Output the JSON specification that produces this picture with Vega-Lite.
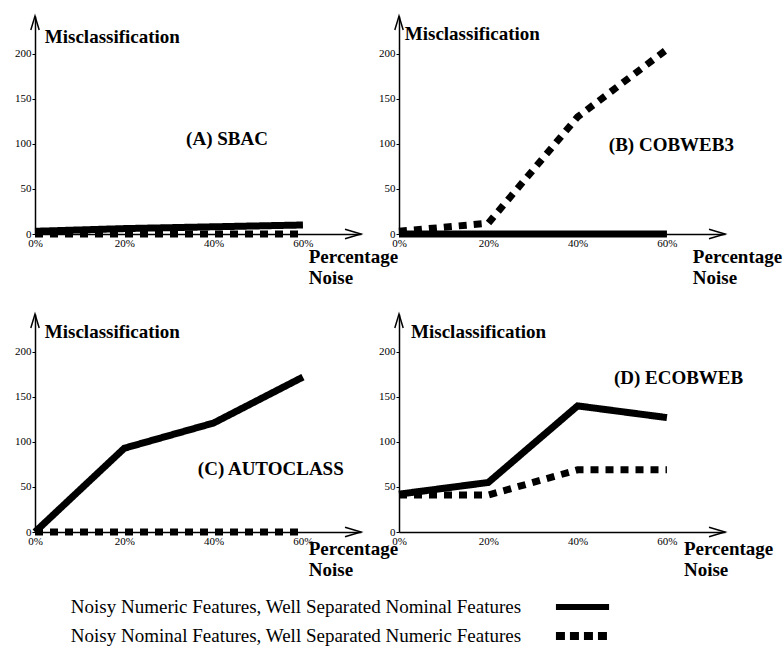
{
  "$schema": "https://vega.github.io/schema/vega-lite/v6.json",
  "background": "white",
  "padding": {"left": 14, "top": 13, "right": 5, "bottom": 5},
  "config": {
    "view": {"stroke": null},
    "font": "Liberation Serif",
    "axis": {
      "domainColor": "black", "domainWidth": 1.5, "grid": false,
      "labelFont": "Liberation Serif", "labelFontSize": 11, "labelColor": "black",
      "labelFlush": false, "labelOverlap": false, "tickColor": "black", "title": null
    },
    "axisX": {"ticks": false, "labelPadding": 3},
    "axisY": {"tickSize": 3, "labelPadding": 1}
  },
  "datasets": {
    "noise": [
      {"panel": "A", "series": "nominal", "noise": 0, "value": 0},
      {"panel": "A", "series": "nominal", "noise": 20, "value": 0},
      {"panel": "A", "series": "nominal", "noise": 40, "value": 0},
      {"panel": "A", "series": "nominal", "noise": 60, "value": 0},
      {"panel": "A", "series": "numeric", "noise": 0, "value": 3},
      {"panel": "A", "series": "numeric", "noise": 20, "value": 6},
      {"panel": "A", "series": "numeric", "noise": 40, "value": 8},
      {"panel": "A", "series": "numeric", "noise": 60, "value": 10},
      {"panel": "B", "series": "nominal", "noise": 0, "value": 3},
      {"panel": "B", "series": "nominal", "noise": 20, "value": 12},
      {"panel": "B", "series": "nominal", "noise": 40, "value": 130},
      {"panel": "B", "series": "nominal", "noise": 60, "value": 205},
      {"panel": "B", "series": "numeric", "noise": 0, "value": 0},
      {"panel": "B", "series": "numeric", "noise": 20, "value": 0},
      {"panel": "B", "series": "numeric", "noise": 40, "value": 0},
      {"panel": "B", "series": "numeric", "noise": 60, "value": 0},
      {"panel": "C", "series": "nominal", "noise": 0, "value": 0},
      {"panel": "C", "series": "nominal", "noise": 20, "value": 0},
      {"panel": "C", "series": "nominal", "noise": 40, "value": 0},
      {"panel": "C", "series": "nominal", "noise": 60, "value": 0},
      {"panel": "C", "series": "numeric", "noise": 0, "value": 0},
      {"panel": "C", "series": "numeric", "noise": 20, "value": 93},
      {"panel": "C", "series": "numeric", "noise": 40, "value": 121},
      {"panel": "C", "series": "numeric", "noise": 60, "value": 172},
      {"panel": "D", "series": "nominal", "noise": 0, "value": 41},
      {"panel": "D", "series": "nominal", "noise": 20, "value": 41},
      {"panel": "D", "series": "nominal", "noise": 40, "value": 69},
      {"panel": "D", "series": "nominal", "noise": 60, "value": 69},
      {"panel": "D", "series": "numeric", "noise": 0, "value": 42},
      {"panel": "D", "series": "numeric", "noise": 20, "value": 55},
      {"panel": "D", "series": "numeric", "noise": 40, "value": 140},
      {"panel": "D", "series": "numeric", "noise": 60, "value": 127}
    ],
    "legend": [
      {"series": "numeric", "label": "Noisy Numeric Features, Well Separated Nominal Features"},
      {"series": "nominal", "label": "Noisy Nominal Features, Well Separated Numeric Features"}
    ]
  },
  "columns": 2,
  "bounds": "flush",
  "spacing": {"row": 80, "column": 38},
  "concat": [
    {
      "width": 326, "height": 218,
      "layer": [
        {"data": {"name": "noise"}, "transform": [{"filter": "datum.panel === 'A'"}],
         "mark": {"type": "line", "strokeWidth": 7, "strokeCap": "butt", "color": "black"},
         "encoding": {
           "x": {"field": "noise", "type": "quantitative", "scale": {"domain": [0, 73], "nice": false}, "axis": {"values": [0, 20, 40, 60], "labelExpr": "datum.value + '%'"}},
           "y": {"field": "value", "type": "quantitative", "scale": {"domain": [0, 242], "nice": false}, "axis": {"values": [0, 50, 100, 150, 200]}},
           "strokeDash": {"field": "series", "type": "nominal", "sort": ["nominal", "numeric"], "scale": {"domain": ["numeric", "nominal"], "range": [[1, 0], [8, 7]]}, "legend": null}
         }},
        {"data": {"values": [{}]}, "mark": {"type": "point", "shape": "M-1,-0.3L0,0L-1,0.3", "filled": false, "stroke": "black", "strokeWidth": 1.5, "size": 1024, "opacity": 1},
         "encoding": {"x": {"datum": 73}, "y": {"datum": 0}}},
        {"data": {"values": [{}]}, "mark": {"type": "point", "shape": "M-0.3,1L0,0L0.3,1", "filled": false, "stroke": "black", "strokeWidth": 1.5, "size": 784, "opacity": 1},
         "encoding": {"x": {"datum": 0}, "y": {"datum": 242}}},
        {"data": {"values": [{}]}, "mark": {"type": "text", "text": "Misclassification", "align": "left", "baseline": "middle", "fontWeight": "bold", "fontSize": 19},
         "encoding": {"x": {"datum": 2.2}, "y": {"datum": 219}}},
        {"data": {"values": [{}]}, "mark": {"type": "text", "text": "(A) SBAC", "align": "center", "baseline": "middle", "fontWeight": "bold", "fontSize": 19},
         "encoding": {"x": {"datum": 43}, "y": {"datum": 105}}},
        {"data": {"values": [{}]}, "mark": {"type": "text", "text": ["Percentage", "Noise"], "lineHeight": 21, "align": "left", "baseline": "middle", "fontWeight": "bold", "fontSize": 19},
         "encoding": {"x": {"datum": 61.3}, "y": {"datum": -26}}}
      ]
    },
    {
      "width": 326, "height": 218,
      "layer": [
        {"data": {"name": "noise"}, "transform": [{"filter": "datum.panel === 'B'"}],
         "mark": {"type": "line", "strokeWidth": 7, "strokeCap": "butt", "color": "black"},
         "encoding": {
           "x": {"field": "noise", "type": "quantitative", "scale": {"domain": [0, 73], "nice": false}, "axis": {"values": [0, 20, 40, 60], "labelExpr": "datum.value + '%'"}},
           "y": {"field": "value", "type": "quantitative", "scale": {"domain": [0, 242], "nice": false}, "axis": {"values": [0, 50, 100, 150, 200]}},
           "strokeDash": {"field": "series", "type": "nominal", "sort": ["nominal", "numeric"], "scale": {"domain": ["numeric", "nominal"], "range": [[1, 0], [8, 7]]}, "legend": null}
         }},
        {"data": {"values": [{}]}, "mark": {"type": "point", "shape": "M-1,-0.3L0,0L-1,0.3", "filled": false, "stroke": "black", "strokeWidth": 1.5, "size": 1024, "opacity": 1},
         "encoding": {"x": {"datum": 73}, "y": {"datum": 0}}},
        {"data": {"values": [{}]}, "mark": {"type": "point", "shape": "M-0.3,1L0,0L0.3,1", "filled": false, "stroke": "black", "strokeWidth": 1.5, "size": 784, "opacity": 1},
         "encoding": {"x": {"datum": 0}, "y": {"datum": 242}}},
        {"data": {"values": [{}]}, "mark": {"type": "text", "text": "Misclassification", "align": "left", "baseline": "middle", "fontWeight": "bold", "fontSize": 19},
         "encoding": {"x": {"datum": 1.3}, "y": {"datum": 222}}},
        {"data": {"values": [{}]}, "mark": {"type": "text", "text": "(B) COBWEB3", "align": "center", "baseline": "middle", "fontWeight": "bold", "fontSize": 19},
         "encoding": {"x": {"datum": 61}, "y": {"datum": 99}}},
        {"data": {"values": [{}]}, "mark": {"type": "text", "text": ["Percentage", "Noise"], "lineHeight": 21, "align": "left", "baseline": "middle", "fontWeight": "bold", "fontSize": 19},
         "encoding": {"x": {"datum": 65.8}, "y": {"datum": -26}}}
      ]
    },
    {
      "width": 326, "height": 218,
      "layer": [
        {"data": {"name": "noise"}, "transform": [{"filter": "datum.panel === 'C'"}],
         "mark": {"type": "line", "strokeWidth": 7, "strokeCap": "butt", "color": "black"},
         "encoding": {
           "x": {"field": "noise", "type": "quantitative", "scale": {"domain": [0, 73], "nice": false}, "axis": {"values": [0, 20, 40, 60], "labelExpr": "datum.value + '%'"}},
           "y": {"field": "value", "type": "quantitative", "scale": {"domain": [0, 242], "nice": false}, "axis": {"values": [0, 50, 100, 150, 200]}},
           "strokeDash": {"field": "series", "type": "nominal", "sort": ["nominal", "numeric"], "scale": {"domain": ["numeric", "nominal"], "range": [[1, 0], [8, 7]]}, "legend": null}
         }},
        {"data": {"values": [{}]}, "mark": {"type": "point", "shape": "M-1,-0.3L0,0L-1,0.3", "filled": false, "stroke": "black", "strokeWidth": 1.5, "size": 1024, "opacity": 1},
         "encoding": {"x": {"datum": 73}, "y": {"datum": 0}}},
        {"data": {"values": [{}]}, "mark": {"type": "point", "shape": "M-0.3,1L0,0L0.3,1", "filled": false, "stroke": "black", "strokeWidth": 1.5, "size": 784, "opacity": 1},
         "encoding": {"x": {"datum": 0}, "y": {"datum": 242}}},
        {"data": {"values": [{}]}, "mark": {"type": "text", "text": "Misclassification", "align": "left", "baseline": "middle", "fontWeight": "bold", "fontSize": 19},
         "encoding": {"x": {"datum": 2.2}, "y": {"datum": 222}}},
        {"data": {"values": [{}]}, "mark": {"type": "text", "text": "(C) AUTOCLASS", "align": "center", "baseline": "middle", "fontWeight": "bold", "fontSize": 19},
         "encoding": {"x": {"datum": 52.8}, "y": {"datum": 70}}},
        {"data": {"values": [{}]}, "mark": {"type": "text", "text": ["Percentage", "Noise"], "lineHeight": 21, "align": "left", "baseline": "middle", "fontWeight": "bold", "fontSize": 19},
         "encoding": {"x": {"datum": 61.3}, "y": {"datum": -19}}}
      ]
    },
    {
      "width": 326, "height": 218,
      "layer": [
        {"data": {"name": "noise"}, "transform": [{"filter": "datum.panel === 'D'"}],
         "mark": {"type": "line", "strokeWidth": 7, "strokeCap": "butt", "color": "black"},
         "encoding": {
           "x": {"field": "noise", "type": "quantitative", "scale": {"domain": [0, 73], "nice": false}, "axis": {"values": [0, 20, 40, 60], "labelExpr": "datum.value + '%'"}},
           "y": {"field": "value", "type": "quantitative", "scale": {"domain": [0, 242], "nice": false}, "axis": {"values": [0, 50, 100, 150, 200]}},
           "strokeDash": {"field": "series", "type": "nominal", "sort": ["nominal", "numeric"], "scale": {"domain": ["numeric", "nominal"], "range": [[1, 0], [8, 7]]}, "legend": null}
         }},
        {"data": {"values": [{}]}, "mark": {"type": "point", "shape": "M-1,-0.3L0,0L-1,0.3", "filled": false, "stroke": "black", "strokeWidth": 1.5, "size": 1024, "opacity": 1},
         "encoding": {"x": {"datum": 73}, "y": {"datum": 0}}},
        {"data": {"values": [{}]}, "mark": {"type": "point", "shape": "M-0.3,1L0,0L0.3,1", "filled": false, "stroke": "black", "strokeWidth": 1.5, "size": 784, "opacity": 1},
         "encoding": {"x": {"datum": 0}, "y": {"datum": 242}}},
        {"data": {"values": [{}]}, "mark": {"type": "text", "text": "Misclassification", "align": "left", "baseline": "middle", "fontWeight": "bold", "fontSize": 19},
         "encoding": {"x": {"datum": 2.7}, "y": {"datum": 222}}},
        {"data": {"values": [{}]}, "mark": {"type": "text", "text": "(D) ECOBWEB", "align": "center", "baseline": "middle", "fontWeight": "bold", "fontSize": 19},
         "encoding": {"x": {"datum": 62.6}, "y": {"datum": 171}}},
        {"data": {"values": [{}]}, "mark": {"type": "text", "text": ["Percentage", "Noise"], "lineHeight": 21, "align": "left", "baseline": "middle", "fontWeight": "bold", "fontSize": 19},
         "encoding": {"x": {"datum": 63.8}, "y": {"datum": -19}}}
      ]
    },
    {
      "width": 326, "height": 29,
      "data": {"name": "legend"},
      "layer": [
        {"mark": {"type": "text", "align": "left", "baseline": "middle", "fontSize": 19, "font": "Liberation Serif", "dy": -5},
         "encoding": {
           "x": {"datum": 11, "type": "quantitative", "scale": {"domain": [0, 100]}, "axis": null},
           "y": {"field": "label", "type": "nominal", "sort": null, "scale": {"type": "point", "padding": 0}, "axis": null},
           "text": {"field": "label"}
         }},
        {"transform": [{"filter": "datum.series === 'numeric'"}],
         "mark": {"type": "rule", "strokeWidth": 6, "color": "black", "strokeCap": "butt", "yOffset": -5},
         "encoding": {
           "x": {"datum": 159.8}, "x2": {"datum": 176.1},
           "y": {"field": "label", "type": "nominal", "sort": null}
         }},
        {"transform": [{"filter": "datum.series === 'nominal'"}],
         "mark": {"type": "rule", "strokeWidth": 8, "color": "black", "strokeCap": "butt", "strokeDash": [9, 5], "yOffset": -5},
         "encoding": {
           "x": {"datum": 159.8}, "x2": {"datum": 176.1},
           "y": {"field": "label", "type": "nominal", "sort": null}
         }}
      ]
    }
  ]
}
